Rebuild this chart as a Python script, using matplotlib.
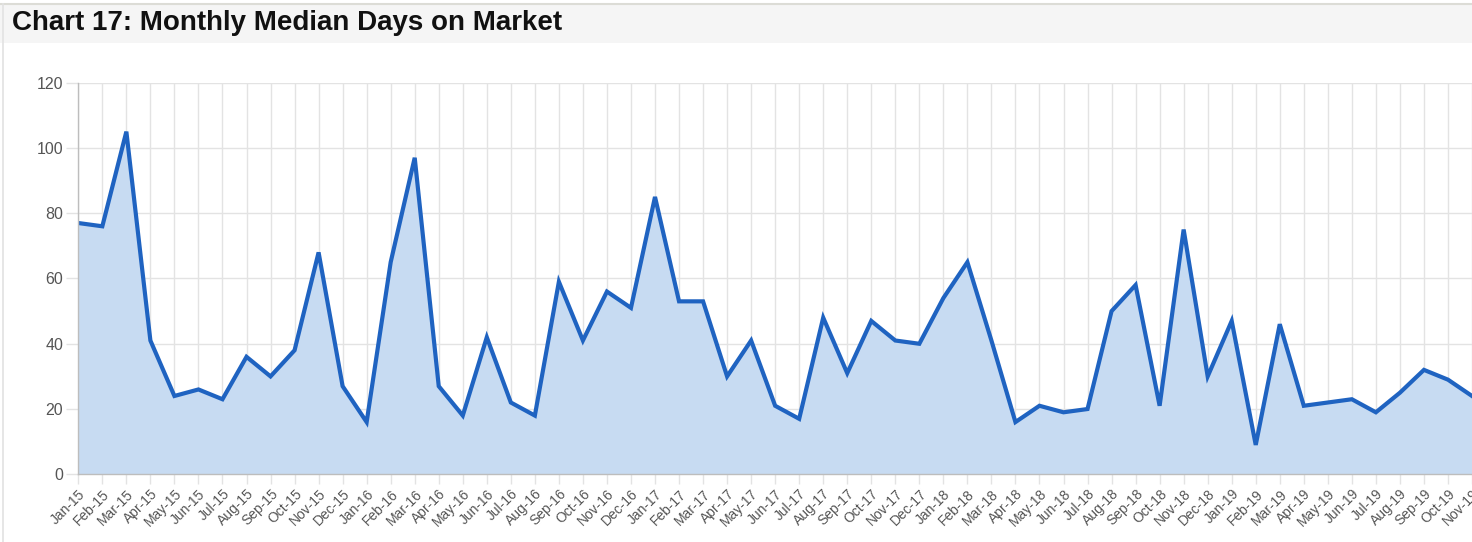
import numpy as np
import matplotlib.pyplot as plt
from matplotlib.patches import Rectangle
from matplotlib.lines import Line2D

plt.rcParams['font.family'] = ['Liberation Sans', 'DejaVu Sans']

months = ["Jan", "Feb", "Mar", "Apr", "May", "Jun",
          "Jul", "Aug", "Sep", "Oct", "Nov", "Dec"]
years = ["15", "16", "17", "18", "19"]
labels = [f"{m}-{y}" for y in years for m in months][:59]   # Jan-15 .. Nov-19

# median days on market, one value per month
days = [77, 76, 105, 41, 24, 26, 23, 36, 30, 38, 68, 27,
        16, 65, 97, 27, 18, 42, 22, 18, 59, 41, 56, 51,
        85, 53, 53, 30, 41, 21, 17, 48, 31, 47, 41, 40,
        54, 65, 41, 16, 21, 19, 20, 50, 58, 21, 75, 30,
        47, 9, 46, 21, 22, 23, 19, 25, 32, 29, 24]

W, H = 1472, 542
fig = plt.figure(figsize=(W / 100, H / 100), dpi=100)

# header band with title
fig.patches.append(Rectangle((0, 1 - 43 / H), 1, 39 / H, transform=fig.transFigure,
                             facecolor="#f5f5f5", edgecolor="none", zorder=0))
fig.lines.append(Line2D([0, 1], [1 - 4 / H, 1 - 4 / H], transform=fig.transFigure,
                        color="#dcdcd6", lw=1.5))
fig.lines.append(Line2D([2.5 / W, 2.5 / W], [0, 1 - 4 / H], transform=fig.transFigure,
                        color="#e2e2e2", lw=1.2))
fig.text(12 / W, 1 - 23 / H, "Chart 17: Monthly Median Days on Market",
         fontsize=20, fontweight="bold", color="#111111", va="center", ha="left")

ax = fig.add_axes([78.3 / W, 1 - 474.3 / H, 1 - 78.3 / W, (474.3 - 82.7) / H])
x = np.arange(len(days))
ax.fill_between(x, days, 0, color="#c7dbf2", lw=0, zorder=2)
ax.plot(x, days, color="#1f63c1", lw=3, solid_joinstyle="miter", zorder=3)

ax.set_xlim(0, 58)
ax.set_ylim(0, 120)
ax.set_yticks(range(0, 121, 20))
ax.set_xticks(x)
ax.set_xticklabels(labels, rotation=45, ha="right", rotation_mode="anchor")
ax.grid(True, color="#e3e3e3", lw=1, zorder=1)
ax.set_axisbelow(True)

for side in ("top", "right"):
    ax.spines[side].set_visible(False)
for side in ("left", "bottom"):
    ax.spines[side].set_color("#bdbdbd")
    ax.spines[side].set_linewidth(1)
    ax.spines[side].set_zorder(4)

ax.tick_params(axis="y", length=9, width=1, color="#e3e3e3", pad=2,
               labelsize=11.5, labelcolor="#555555")
ax.tick_params(axis="x", length=7, width=1, color="#e3e3e3", pad=2,
               labelsize=10, labelcolor="#555555")

fig.savefig("out.png", dpi=100)
